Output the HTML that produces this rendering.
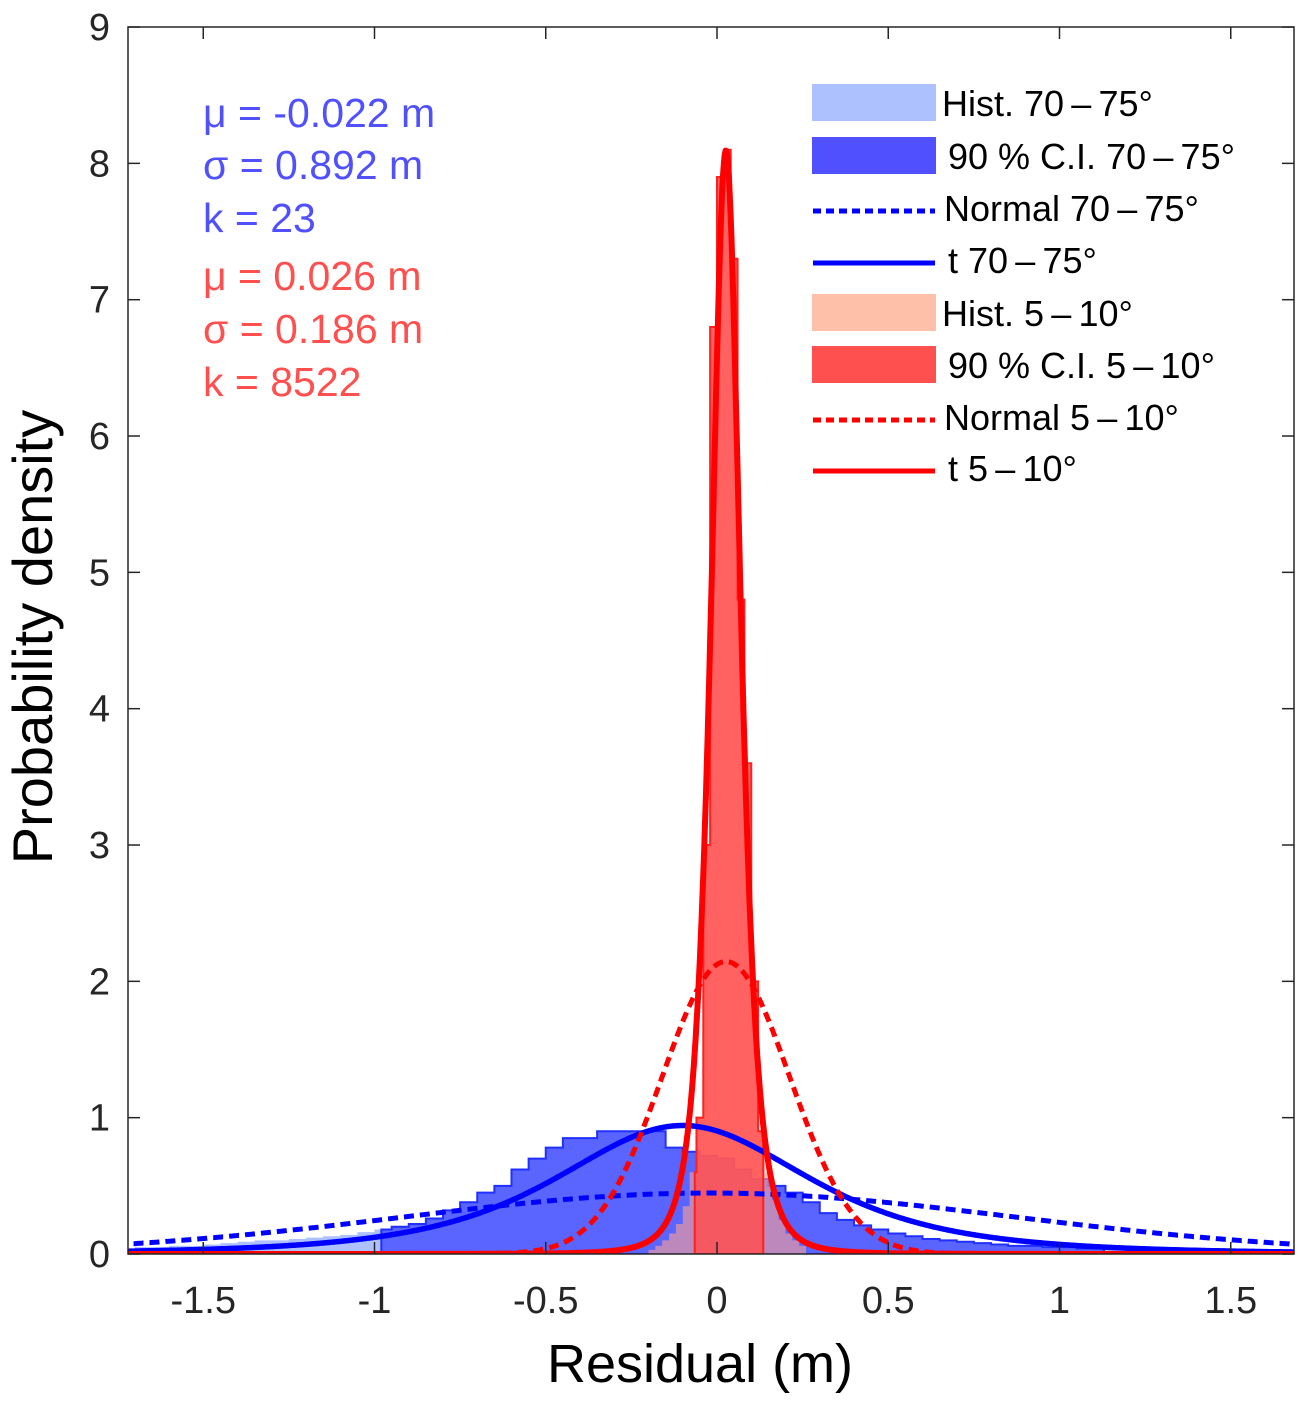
<!DOCTYPE html>
<html><head><meta charset="utf-8"><style>
html,body{margin:0;padding:0;background:#fff;}
svg{display:block;font-family:"Liberation Sans",Arial,sans-serif;}
</style></head><body>
<svg id="chart" width="1302" height="1406" xmlns="http://www.w3.org/2000/svg">
<defs><clipPath id="clip"><rect x="128" y="27" width="1166" height="1227"/></clipPath></defs>
<g id="plot" clip-path="url(#clip)"></g>
<g id="axes"></g>
<g id="legend"></g>
<g font-size="41">
<text x="203" y="127" fill="#5050ff">μ = -0.022 m</text>
<text x="203" y="179" fill="#5050ff">σ = 0.892 m</text>
<text x="203" y="232" fill="#5050ff">k = 23</text>
<text x="203" y="290" fill="#ff4f4f">μ = 0.026 m</text>
<text x="203" y="343" fill="#ff4f4f">σ = 0.186 m</text>
<text x="203" y="396" fill="#ff4f4f">k = 8522</text>
</g>
<text x="700" y="1382" font-size="54" text-anchor="middle" fill="#000">Residual (m)</text>
<text transform="translate(52,637) rotate(-90)" font-size="56" text-anchor="middle" fill="#000">Probability density</text>
</svg>
<script>
const xTicks=[-1.5,-1,-0.5,0,0.5,1,1.5];
const xTickLabels=["-1.5","-1","-0.5","0","0.5","1","1.5"];
const yTicks=[0,1,2,3,4,5,6,7,8,9];
const blueBinStart=-1.7;
const blueBinWidth=0.05;
const blueHist=[0.05,0.05,0.06,0.06,0.07,0.08,0.09,0.1,0.1,0.11,0.12,0.13,0.14,0.16,0.18,0.2,0.22,0.26,0.32,0.38,0.45,0.5,0.62,0.7,0.78,0.85,0.85,0.9,0.9,0.9,0.9,0.78,0.75,0.72,0.7,0.62,0.55,0.5,0.45,0.38,0.3,0.25,0.21,0.18,0.15,0.13,0.11,0.1,0.09,0.08,0.07,0.06,0.06,0.05,0.05,0.04,0.04,0.04,0.03,0.03,0.03,0.03,0.02,0.02,0.02,0.02,0.02,0.02];
const blueCI=[-0.98,1.13];
const redBinStart=-0.2;
const redBinWidth=0.02;
const redHist=[0.03,0.06,0.1,0.15,0.22,0.35,0.6,1.0,3.0,6.8,7.9,8.1,7.3,4.8,3.6,2.0,0.9,0.6,0.4,0.25,0.15,0.1,0.06];
const redCI=[-0.065,0.135];
const blueNormal={mu:-0.022,sigma:0.892};
const redNormal={mu:0.026,sigma:0.186};
const blueT={mu:-0.1,s:0.39,nu:3};
const redT={mu:0.026,s:0.0454,nu:3};

const X=v=>717+v*342.5, Y=v=>1254-v*136.33;
const NS='http://www.w3.org/2000/svg';
function mk(tag,attrs,parent){const e=document.createElementNS(NS,tag);for(const k in attrs)e.setAttribute(k,attrs[k]);parent.appendChild(e);return e;}
const plot=document.getElementById('plot'),axes=document.getElementById('axes'),legend=document.getElementById('legend');

function histPath(start,w,vals,lo,hi){
  let d='',first=true;
  vals.forEach((v,i)=>{let a=start+i*w,b=a+w;if(lo!==undefined){a=Math.max(a,lo);b=Math.min(b,hi);if(b<=a)return;}
    if(first){d+=`M${X(a)},${Y(0)}`;first=false;}
    d+=`L${X(a)},${Y(v)}L${X(b)},${Y(v)}`;});
  const lastEnd=lo!==undefined?Math.min(hi,start+vals.length*w):start+vals.length*w;
  d+=`L${X(lastEnd)},${Y(0)}Z`;return d;}
let e;
e=mk('path',{d:histPath(blueBinStart,blueBinWidth,blueHist),fill:'#adc0ff',stroke:'none'},plot);


e=mk('path',{d:histPath(blueBinStart,blueBinWidth,blueHist,blueCI[0],blueCI[1]),fill:'#5a64ff',stroke:'#2030ff','stroke-width':2},plot);


e=mk('path',{d:histPath(redBinStart,redBinWidth,redHist),fill:'#ffa090','fill-opacity':0.6,stroke:'none'},plot);


e=mk('path',{d:histPath(redBinStart,redBinWidth,redHist,redCI[0],redCI[1]),fill:'#ff5050','fill-opacity':0.85,stroke:'#ff2020','stroke-width':2},plot);



function gam(z){const g=[676.5203681218851,-1259.1392167224028,771.32342877765313,-176.61502916214059,12.507343278686905,-0.13857109526572012,9.9843695780195716e-6,1.5056327351493116e-7];if(z<0.5)return Math.PI/(Math.sin(Math.PI*z)*gam(1-z));z-=1;let x=0.99999999999980993;for(let i=0;i<8;i++)x+=g[i]/(z+i+1);const t=z+7.5;return Math.sqrt(2*Math.PI)*Math.pow(t,z+0.5)*Math.exp(-t)*x;}
const normPdf=(p,x)=>Math.exp(-0.5*((x-p.mu)/p.sigma)**2)/(p.sigma*Math.sqrt(2*Math.PI));
const tPdf=(p,x)=>{const z=(x-p.mu)/p.s;return gam((p.nu+1)/2)/(Math.sqrt(p.nu*Math.PI)*gam(p.nu/2)*p.s)*Math.pow(1+z*z/p.nu,-(p.nu+1)/2);};
function curve(f,p,attrs,name){let d='';for(let i=0;i<=1400;i++){const x=-1.75+i*3.5/1400;d+=(i?'L':'M')+X(x).toFixed(1)+','+Y(f(p,x)).toFixed(1);}
  const el=mk('path',Object.assign({d:d,fill:'none','stroke-linejoin':'round'},attrs),plot);
  
  }
curve(normPdf,blueNormal,{stroke:'#0000ff','stroke-width':5,'stroke-dasharray':'10 6'},'normal-blue');
curve(tPdf,blueT,{stroke:'#0000ff','stroke-width':5.5},'t-blue');
curve(normPdf,redNormal,{stroke:'#ff0000','stroke-width':5,'stroke-dasharray':'10 6'},'normal-red');
curve(tPdf,redT,{stroke:'#ff0000','stroke-width':6},'t-red');

e=mk('rect',{x:128,y:27,width:1166,height:1227,fill:'none',stroke:'#262626','stroke-width':1.5},axes);


xTicks.forEach((v,i)=>{mk('line',{x1:X(v),x2:X(v),y1:1254,y2:1242,stroke:'#262626','stroke-width':1.5},axes);mk('line',{x1:X(v),x2:X(v),y1:27,y2:39,stroke:'#262626','stroke-width':1.5},axes);
  const t=mk('text',{x:X(v),y:1313,'font-size':38,'text-anchor':'middle',fill:'#262626'},axes);t.textContent=xTickLabels[i];
  
  });
yTicks.forEach(v=>{mk('line',{x1:128,x2:140,y1:Y(v),y2:Y(v),stroke:'#262626','stroke-width':1.5},axes);mk('line',{x1:1294,x2:1282,y1:Y(v),y2:Y(v),stroke:'#262626','stroke-width':1.5},axes);
  const t=mk('text',{x:110,y:Y(v)+13,'font-size':38,'text-anchor':'end',fill:'#262626'},axes);t.textContent=String(v);
  
  });

const legLabels=["Hist. 70\u2009\u2013\u200975°","90 % C.I. 70\u2009\u2013\u200975°","Normal 70\u2009\u2013\u200975°","t 70\u2009\u2013\u200975°","Hist. 5\u2009\u2013\u200910°","90 % C.I. 5\u2009\u2013\u200910°","Normal 5\u2009\u2013\u200910°","t 5\u2009\u2013\u200910°"];
const legY=[102,155,207,259,312,364,416,467];
const legTextX=[942,948,944,948,942,948,944,948];
legLabels.forEach((lab,i)=>{const y=legY[i];
  const kind=i%4, col=i<4?'#0000ff':'#ff0000';
  if(kind===0) mk('rect',{x:812,y:y-18,width:124,height:37,fill:i<4?'#adc0ff':'#ffc0aa'},legend);
  else if(kind===1) mk('rect',{x:812,y:y-18,width:124,height:37,fill:i<4?'#5050ff':'#ff5050'},legend);
  else mk('line',{x1:813,x2:935,y1:y+4,y2:y+4,stroke:col,'stroke-width':5,'stroke-dasharray':kind===2?'8 5':'none'},legend);
  const t=mk('text',{x:legTextX[i],y:y+14,'font-size':36,fill:'#000'},legend);t.textContent=lab;
  
  });
</script>
</body></html>
